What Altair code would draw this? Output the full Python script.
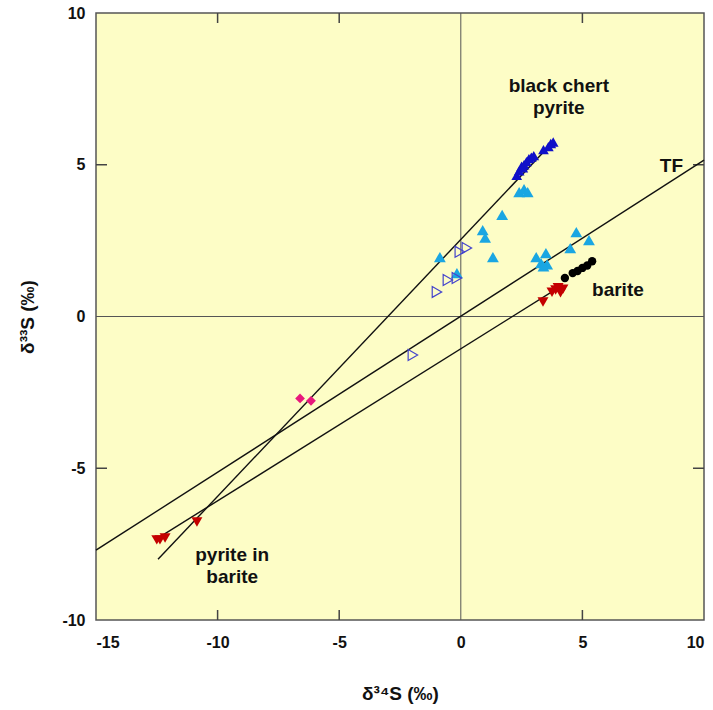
import altair as alt
import pandas as pd

# ---- data ----
dark_blue_x = [2.3, 2.4, 2.5, 2.55, 2.6, 2.7, 2.8, 2.9, 3.0, 3.4, 3.6, 3.7, 3.8]
dark_blue_y = [4.65, 4.8, 4.95, 4.9, 5.0, 5.1, 5.2, 5.25, 5.3, 5.5, 5.6, 5.7, 5.75]

light_blue_x = [2.4, 2.6, 2.75, 1.7, 0.9, 1.0, 1.32, -0.86, -0.16, 3.1, 3.5, 3.3, 3.55, 3.4, 4.75, 4.5, 5.27]
light_blue_y = [4.1, 4.2, 4.1, 3.35, 2.85, 2.6, 1.96, 1.96, 1.43, 1.96, 2.09, 1.76, 1.72, 1.65, 2.78, 2.25, 2.52]

open_tri_x = [0.25, -0.04, -0.53, -0.16, -0.98, -1.97]
open_tri_y = [2.26, 2.13, 1.2, 1.27, 0.81, -1.27]

black_x = [4.28, 4.6, 4.8, 5.0, 5.2, 5.4]
black_y = [1.27, 1.43, 1.5, 1.6, 1.68, 1.82]

red_x = [3.38, 3.75, 3.9, 4.0, 4.1, 4.2, -12.5, -12.37, -12.16, -10.85]
red_y = [0.48, 0.8, 0.87, 0.95, 0.78, 0.9, -7.36, -7.36, -7.3, -6.77]

magenta_x = [-6.61, -6.16]
magenta_y = [-2.7, -2.78]

# reference lines (endpoints)
line_names = ["TF", "TF", "barite", "barite", "chert", "chert"]
line_x = [-15.0, 10.0, -12.57, 4.2, -12.45, 3.5]
line_y = [-7.7, 5.15, -7.36, 1.04, -8.0, 5.5]

# annotations
ann_text = ["black chert", "pyrite", "TF", "barite", "pyrite in", "barite"]
ann_x = [4.03, 4.03, 8.66, 6.46, -9.4, -9.4]
ann_y = [7.58, 6.86, 4.96, 0.87, -7.86, -8.57]

x_ticks = [-15, -10, -5, 0, 5, 10]
y_ticks = [-10, -5, 0, 5, 10]
inner_x_ticks = [-10, -5, 5]
inner_y_ticks = [-5, 5]

W, H = 608, 607
FONT = "Liberation Sans"

xs = alt.Scale(domain=[-15, 10], nice=False, zero=False)
ys = alt.Scale(domain=[-10, 10], nice=False, zero=False)

xaxis = alt.Axis(values=x_ticks, ticks=False, domain=False, grid=False,
                 labelExpr="'' + datum.value",
                 labelFont=FONT, labelFontSize=16, labelFontWeight="bold",
                 labelColor="#111", labelPadding=14, title="δ³⁴S (‰)",
                 titleFont=FONT, titleFontSize=19, titleFontWeight="bold",
                 titleColor="#111", titleY=73, titleBaseline="middle")
yaxis = alt.Axis(values=y_ticks, ticks=False, domain=False, grid=False,
                 labelExpr="'' + datum.value",
                 labelFont=FONT, labelFontSize=16, labelFontWeight="bold",
                 labelColor="#111", labelPadding=11, title="δ³³S (‰)",
                 titleFont=FONT, titleFontSize=19, titleFontWeight="bold",
                 titleColor="#111", titleX=-69, titleBaseline="middle")

X = alt.X("x:Q", scale=xs, axis=xaxis)
Y = alt.Y("y:Q", scale=ys, axis=yaxis)


def pts(xv, yv):
    return pd.DataFrame({"x": xv, "y": yv})


zero_v = alt.Chart(pd.DataFrame({"x": [0]})).mark_rule(color="#555", strokeWidth=1).encode(x=X)
zero_h = alt.Chart(pd.DataFrame({"y": [0]})).mark_rule(color="#555", strokeWidth=1).encode(y=Y)

tdx = pd.DataFrame({"x": inner_x_ticks})
tdy = pd.DataFrame({"y": inner_y_ticks})
tick_b = alt.Chart(tdx).mark_rule(color="#444", strokeWidth=1.5).encode(
    x=X, y=alt.value(H), y2=alt.value(H - 10))
tick_t = alt.Chart(tdx).mark_rule(color="#444", strokeWidth=1.5).encode(
    x=X, y=alt.value(0), y2=alt.value(10))
tick_l = alt.Chart(tdy).mark_rule(color="#444", strokeWidth=1.5).encode(
    y=Y, x=alt.value(0), x2=alt.value(11))
tick_r = alt.Chart(tdy).mark_rule(color="#444", strokeWidth=1.5).encode(
    y=Y, x=alt.value(W), x2=alt.value(W - 11))

lines = alt.Chart(pd.DataFrame({"name": line_names, "x": line_x, "y": line_y})).mark_line(
    color="#111", strokeWidth=1.4).encode(x=X, y=Y, detail="name:N")

lb = alt.Chart(pts(light_blue_x, light_blue_y)).mark_point(
    shape="triangle-up", filled=True, color="#1aa6e2", opacity=1, size=140).encode(x=X, y=Y)
db = alt.Chart(pts(dark_blue_x, dark_blue_y)).mark_point(
    shape="triangle-up", filled=True, color="#1010c8", opacity=1, size=115).encode(x=X, y=Y)
ot = alt.Chart(pts(open_tri_x, open_tri_y)).mark_point(
    shape="triangle-right", filled=False, color="#4444cc", strokeWidth=1.2, opacity=1, size=120).encode(x=X, y=Y)
bk = alt.Chart(pts(black_x, black_y)).mark_point(
    shape="circle", filled=True, color="#000", opacity=1, size=70).encode(x=X, y=Y)
rd = alt.Chart(pts(red_x, red_y)).mark_point(
    shape="triangle-down", filled=True, color="#c40000", opacity=1, size=120).encode(x=X, y=Y)
mg = alt.Chart(pts(magenta_x, magenta_y)).mark_point(
    shape="diamond", filled=True, color="#e8187c", opacity=1, size=95).encode(x=X, y=Y)

ann = alt.Chart(pd.DataFrame({"t": ann_text, "x": ann_x, "y": ann_y})).mark_text(
    font=FONT, fontSize=19, fontWeight="bold", color="#111", align="center", baseline="middle").encode(
    x=X, y=Y, text="t:N")

chart = alt.layer(
    zero_v, zero_h, tick_b, tick_t, tick_l, tick_r, lines, lb, db, ot, bk, rd, mg, ann
).properties(
    width=W, height=H,
    autosize=alt.AutoSizeParams(type="none"),
    padding={"left": 96, "top": 13, "right": 9, "bottom": 90},
    background="white",
).configure_view(
    fill="#fdfdc6", stroke="#555", strokeWidth=1.5
)

chart.save("out.html", embed_options={"renderer": "svg", "actions": False})
